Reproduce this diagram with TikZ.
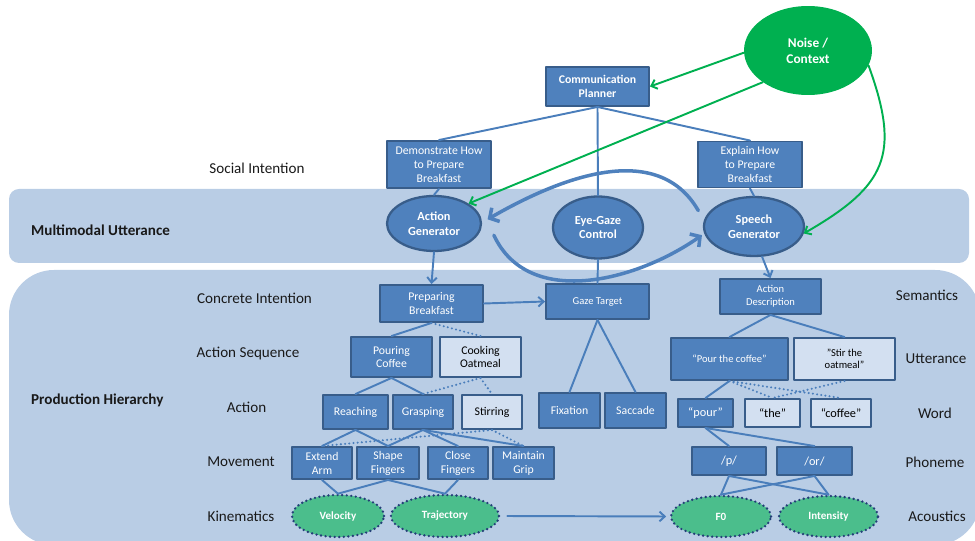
\documentclass[tikz,border=0pt]{standalone}
\usepackage{fontspec}
\setmainfont{Carlito}
\usetikzlibrary{shapes.geometric,arrows.meta}
\definecolor{boxblue}{HTML}{4F81BD}
\definecolor{boxline}{HTML}{385D8A}
\definecolor{linkblue}{HTML}{4A7EBB}
\definecolor{lightbox}{HTML}{D3E0F1}
\definecolor{bandblue}{HTML}{B9CDE5}
\definecolor{noisegreen}{HTML}{00B050}
\definecolor{kingreen}{HTML}{4BBE8C}
\definecolor{dotblue}{HTML}{243F78}
\begin{document}
\begin{tikzpicture}[x=0.02cm,y=0.02cm,>={Straight Barb[length=3pt,width=5.5pt]},line join=round,line cap=round,
	box/.style={draw=boxline,fill=boxblue,text=white,line width=1.1pt,align=center,inner sep=1pt,font=\fontsize{6.7}{7.9}\selectfont},
	lbox/.style={box,fill=lightbox,text=black},
	gen/.style={ellipse,draw=boxline,fill=boxblue,text=white,line width=1.3pt,align=center,inner sep=0pt,font=\bfseries\fontsize{7}{8.4}\selectfont},
	kin/.style={ellipse,draw=dotblue,fill=kingreen,text=white,line width=1.5pt,dash pattern=on 0pt off 2.6pt,inner sep=0pt,font=\bfseries\fontsize{6.3}{7}\selectfont},
	lev/.style={text=black!90,font=\fontsize{8.6}{10}\selectfont},
	link/.style={draw=linkblue,line width=1.1pt},
	dots/.style={link,line width=1.3pt,dash pattern=on 0pt off 2.4pt},
	noisearrow/.style={draw=noisegreen,line width=1.1pt,->},
	cyc/.style={draw=boxblue,line width=2pt,-{Straight Barb[length=4pt,width=9pt]}}]
	\useasboundingbox (0,0) rectangle (975,541);
	\clip (0,0) rectangle (975,541);
	% bands
	\fill[bandblue,rounded corners=0.2cm] (9,278) rectangle (969,352);
	\fill[bandblue,rounded corners=0.9cm] (9,-4) rectangle (980,271);
	\node[lev,font=\bfseries\fontsize{8.6}{10}\selectfont,anchor=west] (mm) at (25,311) {Multimodal Utterance};
	\node[lev,font=\bfseries\fontsize{8.6}{10}\selectfont,anchor=west] (ph) at (25,141) {Production Hierarchy};
	\node[lev] (si) at (257,373) {Social Intention};
	\foreach \n/\x/\y/\t in {ci/254.5/243/Concrete Intention,as/248/188/Action Sequence,ac/246.5/134/Action,mo/241/79/Movement,ki/241/25/Kinematics,se/927/246/Semantics,ut/936/182/Utterance,wo/935/128/Word,pm/935/79/Phoneme,ak/937/25/Acoustics}
	\node[lev] (\n) at (\x,\y) {\t};
	% planner level
	\node[box,font=\bfseries\fontsize{6.7}{7.9}\selectfont,minimum width=2.06cm,minimum height=0.78cm] (cp) at (597.5,454.5) {Communication\\Planner};
	\node[ellipse,fill=noisegreen,text=white,align=center,minimum width=2.56cm,minimum height=1.78cm,font=\bfseries\fontsize{7.6}{9}\selectfont] (noise) at (808,490.5) {Noise /\\Context};
	\node[box,minimum width=2.08cm,minimum height=0.94cm] (demo) at (439,376.5) {Demonstrate How\\to Prepare\\Breakfast};
	\node[box,minimum width=2.08cm,minimum height=0.92cm] (expl) at (750,376.5) {Explain How\\to Prepare\\Breakfast};
	\node[gen,minimum width=1.88cm,minimum height=1.1cm] (ag) at (434,317.5) {Action\\Generator};
	\node[gen,minimum width=1.8cm,minimum height=1.24cm] (eg) at (598,313.5) {Eye-Gaze\\Control};
	\node[gen,minimum width=2cm,minimum height=1.18cm] (sg) at (754,314.5) {Speech\\Generator};
	% hierarchy
	\node[box,minimum width=2.06cm,minimum height=0.74cm] (pb) at (431.5,237.5) {Preparing\\Breakfast};
	\node[box,font=\fontsize{6}{7}\selectfont,minimum width=2.06cm,minimum height=0.7cm] (gt) at (597.5,239.5) {Gaze Target};
	\node[box,font=\fontsize{6}{7.2}\selectfont,minimum width=2.02cm,minimum height=0.7cm] (ad) at (770.5,244.5) {Action\\Description};
	\node[box,minimum width=1.62cm,minimum height=0.8cm] (pc) at (391.5,184) {Pouring\\Coffee};
	\node[lbox,minimum width=1.62cm,minimum height=0.8cm] (co) at (480.5,184) {Cooking\\Oatmeal};
	\node[box,minimum width=1.3cm,minimum height=0.68cm] (reach) at (355.5,129) {Reaching};
	\node[box,minimum width=1.2cm,minimum height=0.68cm] (grasp) at (423,129) {Grasping};
	\node[lbox,minimum width=1.2cm,minimum height=0.68cm] (stir) at (492,129) {Stirring};
	\node[box,minimum width=1.22cm,minimum height=0.7cm] (fix) at (569.5,130.5) {Fixation};
	\node[box,minimum width=1.22cm,minimum height=0.7cm] (sac) at (635.5,130.5) {Saccade};
	\node[box,minimum width=1.2cm,minimum height=0.64cm] (ea) at (322,78) {Extend\\Arm};
	\node[box,minimum width=1.24cm,minimum height=0.64cm] (sf) at (388,78) {Shape\\Fingers};
	\node[box,minimum width=1.2cm,minimum height=0.64cm] (cf) at (458,78) {Close\\Fingers};
	\node[box,minimum width=1.22cm,minimum height=0.64cm] (mg) at (523.5,78) {Maintain\\Grip};
	\node[kin,minimum width=1.84cm,minimum height=0.84cm] (vel) at (338,25) {Velocity};
	\node[kin,minimum width=2.16cm,minimum height=0.84cm] (traj) at (445,25) {Trajectory};
	\node[kin,minimum width=2cm,minimum height=0.82cm] (fz) at (721,24.5) {F0};
	\node[kin,minimum width=1.98cm,minimum height=0.82cm] (inten) at (828.5,24.5) {Intensity};
	\node[box,font=\fontsize{6}{7}\selectfont,minimum width=2.34cm,minimum height=0.84cm] (ptc) at (729.5,182) {“Pour the coffee”};
	\node[lbox,font=\fontsize{6}{7.2}\selectfont,minimum width=2.02cm,minimum height=0.84cm] (sto) at (844.5,182) {"Stir the\\oatmeal"};
	\node[box,font=\fontsize{7}{8}\selectfont,minimum width=1.1cm,minimum height=0.56cm] (wpour) at (705.5,128) {“pour”};
	\node[lbox,font=\fontsize{7}{8}\selectfont,minimum width=1.1cm,minimum height=0.56cm] (wthe) at (772.5,128) {“the”};
	\node[lbox,font=\fontsize{7}{8}\selectfont,minimum width=1.2cm,minimum height=0.56cm] (wcof) at (841,128) {“coffee”};
	\node[box,font=\fontsize{7}{8}\selectfont,minimum width=1.48cm,minimum height=0.56cm] (php) at (729,80) {/p/};
	\node[box,font=\fontsize{7}{8}\selectfont,minimum width=1.5cm,minimum height=0.56cm] (phor) at (814.5,80) {/or/};
	% connectors
	\foreach \a/\b in {cp/demo,cp/expl,cp/eg,eg/gt,demo/ag,expl/sg,pb/pc,pc/reach,pc/grasp,reach/ea,reach/sf,grasp/sf,grasp/cf,grasp/mg,ea/vel,sf/vel,sf/traj,cf/traj,gt/fix,gt/sac,ad/ptc,ad/sto,ptc/wpour,wpour/php,wpour/phor,php/fz,php/inten,phor/fz,phor/inten}
	\draw[link] (\a.south) -- (\b.north);
	\foreach \a/\b in {pb/co,co/grasp,co/stir,stir/ea,stir/mg,ptc/wthe,ptc/wcof,sto/wthe}
	\draw[dots] (\a.south) -- (\b.north);
	\draw[link,->] (ag.south) -- (pb.north);
	\draw[link,->] (sg.-75) -- (ad.north);
	\draw[link,->] (pb.east) -- (gt.west);
	\draw[link,->,shorten <=4pt,shorten >=2pt] (traj.east) -- (fz.west);
	\draw[noisearrow] (noise.182) -- (cp.east);
	\draw[noisearrow] (noise.215) -- (ag.30);
	\draw[noisearrow] (noise.-14) to[out=-70,in=30,looseness=1.35] (sg.-8);
	\draw[cyc] ([xshift=-0.24cm]sg.160) to[out=120,in=30] ([xshift=0.12cm]ag.5);
	\draw[cyc] ([xshift=0.32cm]ag.-15) to[out=-65,in=-145] ([xshift=-0.06cm]sg.190);
\end{tikzpicture}
\end{document}
